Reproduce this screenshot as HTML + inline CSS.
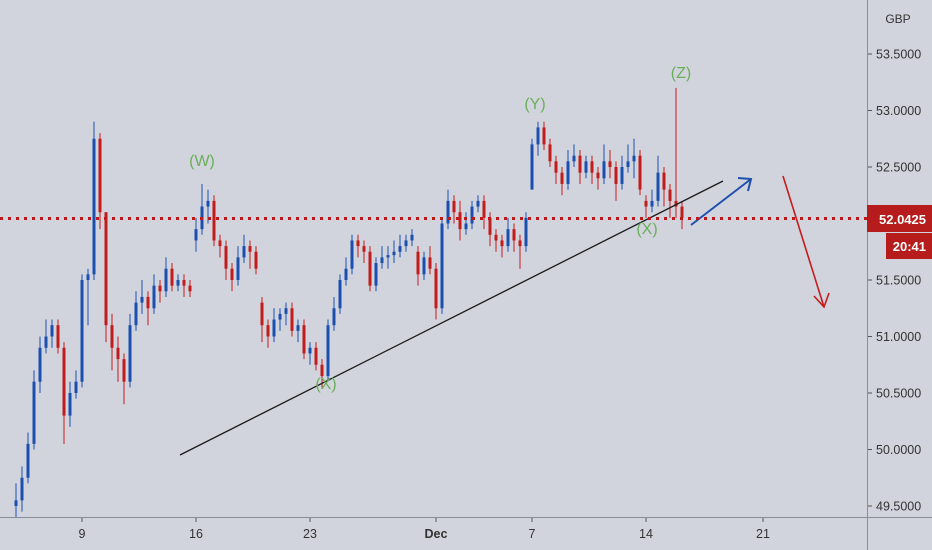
<!DOCTYPE html>
<html><head><meta charset="utf-8"><style>
html,body{margin:0;padding:0;background:#d1d4dc;}
svg{display:block;font-family:"Liberation Sans",sans-serif;}
</style></head><body>
<svg id="chart" width="932" height="550" viewBox="0 0 932 550" xmlns="http://www.w3.org/2000/svg">
<rect x="0" y="0" width="932" height="550" fill="#d1d4dc"/>
<g id="candles"></g>
<line x1="180" y1="455" x2="723" y2="181" stroke="#1b1b1b" stroke-width="1.3"/>
<g stroke="#1f4fb0" stroke-width="2" fill="none">
<line x1="691" y1="225" x2="751" y2="179"/><polyline points="738,178 751,179 748,191"/>
</g>
<g stroke="#c41c1c" stroke-width="1.6" fill="none">
<line x1="783" y1="176" x2="824" y2="307"/><polyline points="814,296 824,307 829,293"/>
</g>
<g fill="#6aaf5a" font-size="16" text-anchor="middle">
<text x="202" y="166">(W)</text>
<text x="326" y="389">(X)</text>
<text x="535" y="109">(Y)</text>
<text x="647" y="234">(X)</text>
<text x="681" y="78">(Z)</text>
</g>
<line x1="0" y1="218.5" x2="867" y2="218.5" stroke="#c01818" stroke-width="3" stroke-dasharray="3 5"/>
<line x1="867.5" y1="0" x2="867.5" y2="550" stroke="#8a8e99" stroke-width="1"/>
<line x1="0" y1="517.5" x2="932" y2="517.5" stroke="#8a8e99" stroke-width="1"/>
<text x="898" y="23" font-size="12" fill="#333" text-anchor="middle">GBP</text>
<g id="yticks"></g>
<g id="xticks"></g>
<rect x="867" y="205" width="65" height="27" fill="#b71c1c"/>
<text x="926" y="224" font-size="13" font-weight="bold" fill="#fff" text-anchor="end">52.0425</text>
<rect x="886" y="233" width="46" height="26" fill="#b71c1c"/>
<text x="926" y="251" font-size="13" font-weight="bold" fill="#fff" text-anchor="end">20:41</text>
</svg>
<script>
const opens  = [49.5,49.55,49.75,50.05,50.6,50.9,51.0,51.1,50.9,50.3,50.5,50.6,51.5,51.55,52.75,52.1,51.1,50.9,50.8,50.6,51.1,51.3,51.35,51.25,51.45,51.4,51.6,51.45,51.5,51.45,51.85,51.95,52.15,52.2,51.85,51.8,51.6,51.5,51.7,51.8,51.75,51.3,51.1,51.0,51.15,51.2,51.25,51.05,51.1,50.85,50.9,50.75,50.65,51.1,51.25,51.5,51.6,51.85,51.8,51.75,51.45,51.65,51.7,51.72,51.75,51.8,51.85,51.75,51.55,51.7,51.6,51.25,52.0,52.2,52.1,51.95,52.0,52.15,52.2,52.05,51.9,51.85,51.8,51.95,51.85,51.8,52.3,52.7,52.85,52.7,52.55,52.45,52.35,52.55,52.6,52.45,52.55,52.45,52.4,52.55,52.5,52.35,52.5,52.55,52.6,52.2,52.15,52.2,52.45,52.3,52.2,52.15];
const closes = [49.55,49.75,50.05,50.6,50.9,51.0,51.1,50.9,50.3,50.5,50.6,51.5,51.55,52.75,52.1,51.1,50.9,50.8,50.6,51.1,51.3,51.35,51.25,51.45,51.4,51.6,51.45,51.5,51.45,51.4,51.95,52.15,52.2,51.85,51.8,51.6,51.5,51.7,51.8,51.75,51.6,51.1,51.0,51.15,51.2,51.25,51.05,51.1,50.85,50.9,50.75,50.65,51.1,51.25,51.5,51.6,51.85,51.8,51.75,51.45,51.65,51.7,51.72,51.75,51.8,51.85,51.9,51.55,51.7,51.6,51.25,52.0,52.2,52.1,51.95,52.0,52.15,52.2,52.05,51.9,51.85,51.8,51.95,51.85,51.8,52.05,52.7,52.85,52.7,52.55,52.45,52.35,52.55,52.6,52.45,52.55,52.45,52.4,52.55,52.5,52.35,52.5,52.55,52.6,52.3,52.15,52.2,52.45,52.3,52.2,52.15,52.05];
const highs  = [49.7,49.85,50.15,50.7,51.0,51.15,51.15,51.15,50.95,50.6,50.7,51.55,51.6,52.9,52.8,52.1,51.2,51.0,50.85,51.2,51.4,51.5,51.4,51.55,51.5,51.7,51.65,51.55,51.55,51.5,52.05,52.35,52.3,52.25,51.9,51.85,51.65,51.8,51.9,51.85,51.8,51.35,51.15,51.25,51.25,51.3,51.3,51.15,51.15,50.95,50.95,50.8,51.15,51.35,51.55,51.7,51.9,51.9,51.85,51.8,51.7,51.8,51.8,51.85,51.9,51.9,51.95,51.8,51.75,51.8,51.65,52.05,52.3,52.25,52.2,52.1,52.2,52.25,52.25,52.1,51.95,51.9,52.05,52.0,51.9,52.1,52.75,52.9,52.9,52.75,52.6,52.5,52.65,52.7,52.65,52.6,52.6,52.5,52.7,52.65,52.55,52.6,52.7,52.75,52.65,52.25,52.3,52.6,52.5,52.35,53.2,52.2];
const lows   = [49.4,49.45,49.7,50.0,50.5,50.85,50.9,50.85,50.05,50.2,50.45,50.55,51.1,51.5,51.95,50.95,50.7,50.6,50.4,50.55,51.05,51.2,51.1,51.2,51.3,51.35,51.4,51.4,51.35,51.35,51.75,51.9,52.0,51.8,51.7,51.5,51.4,51.45,51.65,51.6,51.55,50.95,50.9,50.95,51.05,51.1,51.0,50.95,50.8,50.75,50.7,50.55,50.6,51.05,51.2,51.45,51.55,51.7,51.65,51.4,51.4,51.6,51.6,51.65,51.7,51.75,51.8,51.45,51.5,51.55,51.15,51.2,51.95,52.0,51.85,51.9,51.95,52.1,51.95,51.8,51.75,51.7,51.75,51.75,51.6,51.75,52.3,52.6,52.65,52.5,52.35,52.25,52.3,52.5,52.35,52.4,52.35,52.3,52.35,52.4,52.2,52.3,52.45,52.4,52.25,52.05,52.1,52.15,52.15,52.05,52.05,51.95];
const priceTicks = [53.5,53.0,52.5,51.5,51.0,50.5,50.0,49.5];
const dateLabels = ["9","16","23","Dec","7","14","21"];
const dateIndex  = [11,30,49,70,86,105,124.5];

const NS="http://www.w3.org/2000/svg";
function yScale(p){return 54+(53.5-p)*113;}
function xScale(i){return 16+i*6;}
const cg=document.getElementById('candles');
for(let i=0;i<closes.length;i++){
  const up=closes[i]>=opens[i];
  const col=up?'#1a4fb0':'#c21b1b';
  const x=xScale(i);
  const w=document.createElementNS(NS,'line');
  
  
  w.setAttribute('x1',x);w.setAttribute('x2',x);
  w.setAttribute('y1',yScale(highs[i]));w.setAttribute('y2',yScale(lows[i]));
  w.setAttribute('stroke',col);w.setAttribute('stroke-width','1');
  cg.appendChild(w);
  const b=document.createElementNS(NS,'rect');
  
  
  const t=yScale(Math.max(opens[i],closes[i])),bt=yScale(Math.min(opens[i],closes[i]));
  b.setAttribute('x',x-1.5);b.setAttribute('width',3);
  b.setAttribute('y',t);b.setAttribute('height',Math.max(1.5,bt-t));
  b.setAttribute('fill',col);
  cg.appendChild(b);
}
const yg=document.getElementById('yticks');
priceTicks.forEach(p=>{
  const y=yScale(p);
  const tk=document.createElementNS(NS,'line');
  
  
  tk.setAttribute('x1',868);tk.setAttribute('x2',872);tk.setAttribute('y1',y);tk.setAttribute('y2',y);
  tk.setAttribute('stroke','#555');
  yg.appendChild(tk);
  const tx=document.createElementNS(NS,'text');
  
  
  tx.setAttribute('x',876);tx.setAttribute('y',y+4.5);tx.setAttribute('font-size','12.5');tx.setAttribute('fill','#333');
  tx.textContent=p.toFixed(4);
  yg.appendChild(tx);
});
const xg=document.getElementById('xticks');
dateLabels.forEach((lab,k)=>{
  const x=xScale(dateIndex[k]);
  const tk=document.createElementNS(NS,'line');
  
  
  tk.setAttribute('x1',x);tk.setAttribute('x2',x);tk.setAttribute('y1',518);tk.setAttribute('y2',522);
  tk.setAttribute('stroke','#555');
  xg.appendChild(tk);
  const tx=document.createElementNS(NS,'text');
  
  
  tx.setAttribute('x',x);tx.setAttribute('y',538);tx.setAttribute('font-size','12.5');tx.setAttribute('fill','#333');
  tx.setAttribute('text-anchor','middle');
  if(lab==='Dec')tx.setAttribute('font-weight','bold');
  tx.textContent=lab;
  xg.appendChild(tx);
});
</script>
</body></html>
